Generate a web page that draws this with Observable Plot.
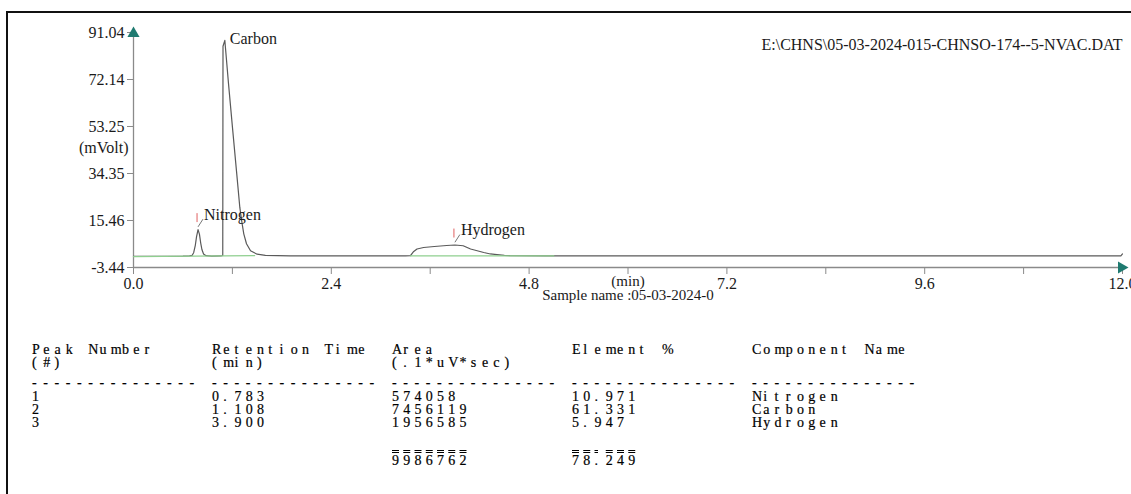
<!DOCTYPE html>
<html>
<head>
<meta charset="utf-8">
<script src="https://cdn.jsdelivr.net/npm/d3@7"></script>
<script src="https://cdn.jsdelivr.net/npm/@observablehq/plot@0.6"></script>
<style>
  html, body { margin: 0; padding: 0; background: #fff; }
  #page { position: relative; width: 1131px; height: 494px; overflow: hidden; background: #fff; }
  #chart { position: absolute; left: 0; top: 0; }
  #frame { position: absolute; left: 6px; top: 11px; width: 1400px; height: 800px;
           border: 2px solid #111; box-sizing: border-box; pointer-events: none; }
  .row { position: absolute; left: 32px; height: 13px; line-height: 13px; white-space: pre;
         font-family: "Liberation Serif", "Times New Roman", serif; font-size: 14px; color: #000;
         -webkit-text-stroke: 0.2px #000; }
  .row span { display: inline-block; width: 11.25px; }
  .row span.ol { text-decoration-line: overline; text-decoration-style: double; text-decoration-thickness: 1px; }
</style>
</head>
<body>
<div id="page">
  <div id="chart"></div>
  <div id="table"></div>
  <div id="frame"></div>
</div>
<script>
// ---- detector signal (time in min, signal in mV) ----
const traceTime = [0.00, 0.30, 0.60, 0.68, 0.71, 0.73, 0.75, 0.765, 0.783, 0.80, 0.815, 0.83, 0.85, 0.88, 0.95,
                   1.06, 1.083, 1.086, 1.108, 1.153, 1.201, 1.250, 1.290, 1.316, 1.338, 1.371, 1.420, 1.50, 1.60, 1.90,
                   2.50, 3.00, 3.30, 3.36, 3.40, 3.44, 3.52, 3.65, 3.80, 3.90, 4.00, 4.09, 4.17, 4.25, 4.33, 4.41,
                   4.50, 4.57, 5.00, 6.00, 8.00, 10.00, 11.98, 12.00];
const traceMv   = [1.00, 1.05, 1.10, 1.20, 1.40, 2.50, 5.50, 9.00, 11.80, 10.00, 6.50, 3.80, 2.00, 1.30, 1.15,
                   1.20, 1.40, 85.5, 87.9, 70.4, 52.8, 35.2, 20.7, 14.6, 10.1, 6.1, 3.3, 1.9, 1.4, 1.2,
                   1.20, 1.20, 1.25, 1.30, 3.00, 4.00, 4.60, 5.00, 5.40, 5.60, 5.30, 4.00, 3.30, 2.60, 2.00, 1.70,
                   1.40, 1.30, 1.25, 1.20, 1.20, 1.20, 1.20, 2.00];

// integration baselines (start/end of each baseline segment)
const baselineSeg  = ["A", "A", "B", "B"];
const baselineTime = [0.00, 1.47, 3.36, 5.10];
const baselineMv   = [0.95, 1.35, 1.25, 1.20];

// ---- peak report ----
const peakNumber  = [1, 2, 3];
const retention   = [0.783, 1.108, 3.900];
const peakArea    = [574058, 7456119, 1956585];
const elementPct  = [10.971, 61.331, 5.947];
const component   = ["Nitrogen", "Carbon", "Hydrogen"];
const peakApexMv  = [11.8, 87.9, 5.6];

// ---- axes ----
const yTicks  = [-3.44, 15.46, 34.35, 53.25, 72.14, 91.04];
const xTicks  = [0.0, 2.4, 4.8, 7.2, 9.6, 12.0];
const xMinor  = [1.2, 3.6, 6.0, 8.4, 10.8];
const yMin = -3.44, yMax = 91.04, xMax = 12.0;

const fileName   = "E:\\CHNS\\05-03-2024-015-CHNSO-174--5-NVAC.DAT";
const yUnit      = "(mVolt)";
const xUnit      = "(min)";
const sampleName = "Sample name :05-03-2024-0";

const trace = traceTime.map((t, i) => ({t, mv: traceMv[i]}));
const baseline = baselineTime.map((t, i) => ({t, mv: baselineMv[i], seg: baselineSeg[i]}));
const peaks = retention.map((rt, i) => ({rt, apex: peakApexMv[i], name: component[i]}));
// labels of peaks that reach the top of the frame sit beside the apex instead of above it
const peaksAbove = peaks.filter(d => d.apex < yMax - 10);
const peaksSide  = peaks.filter(d => d.apex >= yMax - 10);

const ink = "#1a1a1a", axisGray = "#8a8a8a", arrowTeal = "#1f7a70";

const chart = Plot.plot({
  width: 1131, height: 310,
  marginLeft: 133, marginRight: 9, marginTop: 32, marginBottom: 43,
  style: {fontFamily: '"Liberation Serif", "Times New Roman", serif', fontSize: "16px", color: ink, background: "transparent", overflow: "visible"},
  x: {domain: [0, xMax]},
  y: {domain: [yMin, yMax]},
  marks: [
    // axes
    Plot.axisY({ticks: yTicks, tickFormat: d => d.toFixed(2), tickSize: 6, tickPadding: 3, label: null, stroke: axisGray}),
    Plot.axisX({ticks: xTicks, tickFormat: d => d.toFixed(1), tickSize: 7, tickPadding: 3, label: null, stroke: axisGray}),
    Plot.axisX({ticks: xMinor, tickFormat: () => "", tickSize: 7, label: null, stroke: axisGray}),
    Plot.ruleX([0], {y1: yMin, y2: yMax, stroke: axisGray, strokeWidth: 1.3}),
    Plot.ruleY([yMin], {x1: 0, x2: xMax, stroke: axisGray, strokeWidth: 1.3}),
    Plot.dot([0], {x: 0, y: yMax, symbol: "triangle", r: 4.5, fill: arrowTeal, stroke: null, dy: 1}),
    Plot.dot([0], {x: xMax, y: yMin, symbol: "triangle", rotate: 90, r: 4.5, fill: arrowTeal, stroke: null, dx: -1}),

    // signal and integration baselines
    Plot.line(trace, {x: "t", y: "mv", stroke: "#5a5a5a", strokeWidth: 1.2}),
    Plot.line(baseline, {x: "t", y: "mv", z: "seg", stroke: "#8fcf8f", strokeWidth: 1.3}),

    // peak markers, leaders and names
    Plot.ruleX(peaksAbove, {x: "rt", y1: "apex", y2: d => d.apex + 3.6, dy: -7, dx: -1, stroke: "#e06060", strokeWidth: 1}),
    Plot.link(peaksAbove, {x1: "rt", y1: d => d.apex + 1.1, x2: d => d.rt + 0.06, y2: d => d.apex + 4.2, stroke: "#777", strokeWidth: 1}),
    Plot.text(peaksAbove, {x: "rt", y: "apex", text: "name", textAnchor: "start", dx: 6, dy: -15, fill: ink}),
    Plot.text(peaksSide, {x: "rt", y: "apex", text: "name", textAnchor: "start", dx: 5, dy: -1, fill: ink}),

    // titles
    Plot.text([fileName], {frameAnchor: "top-right", text: d => d, textAnchor: "end", dy: 6, fill: ink}),
    Plot.text([yUnit], {frameAnchor: "left", text: d => d, textAnchor: "end", dx: -5, dy: -2, fill: ink}),
    Plot.text([xUnit], {frameAnchor: "bottom", text: d => d, dy: 18, fontSize: 15, fill: ink}),
    Plot.text([sampleName], {frameAnchor: "bottom", text: d => d, dy: 32, fontSize: 15, fill: ink})
  ]
});
document.getElementById("chart").appendChild(chart);

// ---- peak table, fixed 16-character columns ----
const colWidth = 16;
const dashes = "-".repeat(15);
const tableRows = [
  {top: 343, cells: ["Peak Number", "Retention Time", "Area", "Element %", "Component Name"]},
  {top: 356, cells: ["(#)", "(min)", "(.1*uV*sec)", "", ""]},
  {top: 376, cells: [dashes, dashes, dashes, dashes, dashes]},
  ...peakNumber.map((n, i) => ({top: 390 + 13 * i, cells: [n, retention[i].toFixed(3), peakArea[i], elementPct[i].toFixed(3), component[i]]})),
  {top: 454, cells: ["", "", d3.sum(peakArea), d3.sum(elementPct).toFixed(3), ""], overline: [2, 3]}
];
const table = d3.select("#table");
for (const r of tableRows) {
  const div = table.append("div").attr("class", "row").style("top", r.top + "px");
  r.cells.forEach((c, ci) => {
    const s = String(c).padEnd(colWidth, " ");
    const ol = r.overline && r.overline.includes(ci);
    for (let k = 0; k < s.length; k++) {
      const ch = s[k];
      div.append("span").attr("class", ol && ch !== " " ? "ol" : null).text(ch);
    }
  });
}
</script>
</body>
</html>
